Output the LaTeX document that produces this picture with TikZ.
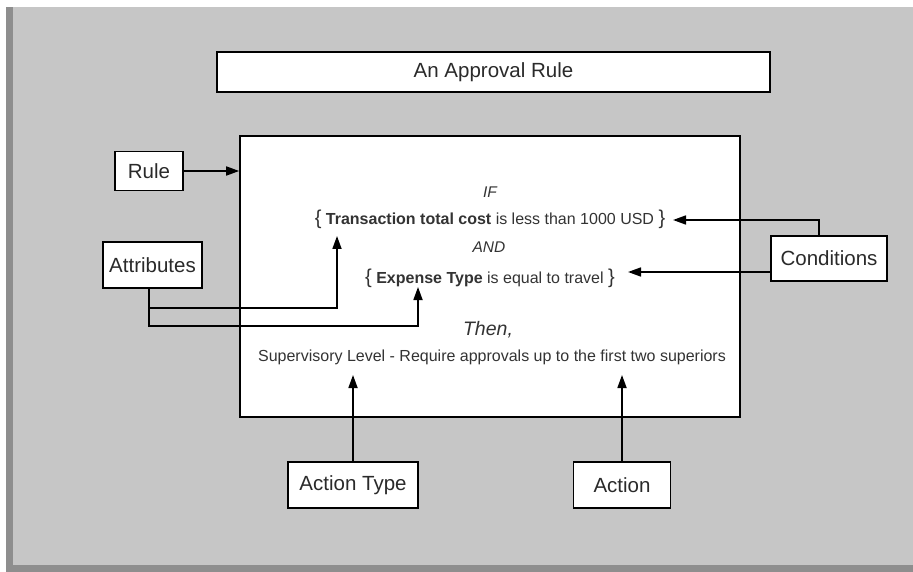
\documentclass[tikz,border=0pt]{standalone}
\usepackage{fontspec}
\setmainfont{Liberation Sans}
\usetikzlibrary{arrows.meta}
\definecolor{bg}{HTML}{C6C6C6}
\definecolor{bgdark}{HTML}{8E8E8E}
\definecolor{txt}{HTML}{2A2A2A}
\definecolor{itxt}{HTML}{333333}
\begin{document}
\begin{tikzpicture}[x=1pt,y=-1pt,
  box/.style={draw=black, line width=1.6pt, fill=white, inner sep=0pt, text=txt,
    font=\fontsize{20.5}{24}\selectfont},
  arr/.style={line width=1.7pt, -{Triangle[length=13pt,width=9pt]}},
  intext/.style={inner sep=0pt, text=itxt, font=\fontsize{16}{19}\selectfont},
  itl/.style={inner sep=0pt, text=itxt, font=\fontsize{15.5}{18}\selectfont\itshape},
]
\useasboundingbox (0,0) rectangle (913,572);
\fill[bgdark] (6,7) rectangle (913,572);
\fill[bg] (13,7) rectangle (913,565);

% boxes
\node[box, minimum width=553pt, minimum height=40pt] (title) at (493.5,72) {An Approval Rule};
\node[box, minimum width=500pt, minimum height=281pt] (main) at (490,276.5) {};
\node[box, minimum width=68pt, minimum height=39pt] (rule) at (149,171) {Rule};
\node[box, minimum width=99pt, minimum height=46pt] (attr) at (152.5,265) {Attributes};
\node[box, minimum width=116pt, minimum height=45pt] (cond) at (829,258.5) {Conditions};
\node[box, minimum width=130pt, minimum height=46pt] (atype) at (353,485) {Action Type};
\node[box, minimum width=97pt, minimum height=46pt] (action) at (622,485) {Action};

% texts inside the rule
\node[itl] (if) at (490,192) {IF};
\node[intext] (line1) at (490,219) {{\fontsize{20}{20}\selectfont\{} \textbf{Transaction total cost} is less than 1000 USD {\fontsize{20}{20}\selectfont\}}};
\node[itl] (and) at (489,247) {AND};
\node[intext] (line2) at (490,278) {{\fontsize{20}{20}\selectfont\{} \textbf{Expense Type} is equal to travel {\fontsize{20}{20}\selectfont\}}};
\node[inner sep=0pt, text=itxt, font=\fontsize{19.5}{22}\selectfont\itshape] (then) at (488,330) {Then,};
\node[intext] (sup) at (492,357) {Supervisory Level - Require approvals up to the first two superiors};

% arrow targets and bends
\coordinate (tipTC) at (337,236);
\coordinate (tipET) at (418,287);
\coordinate (kTC) at (337,308);
\coordinate (kET) at (418,326);
\coordinate (tipC1) at (673,220);
\coordinate (tipC2) at (628,272);
\coordinate (tipAT) at (353,375);
\coordinate (tipAC) at (622,375);

% connectors
\draw[arr] (rule.east) -- (rule.east -| main.west);
\draw[arr] ([xshift=-3.5pt]attr.south) |- (kTC) -- (tipTC);
\draw[arr] ([xshift=-3.5pt]attr.south) |- (kET) -- (tipET);
\draw[arr] ([xshift=-10pt]cond.north) |- (tipC1);
\draw[arr] (cond.west |- tipC2) -- (tipC2);
\draw[arr] (atype.north) -- (tipAT);
\draw[arr] (action.north) -- (tipAC);
\end{tikzpicture}
\end{document}
